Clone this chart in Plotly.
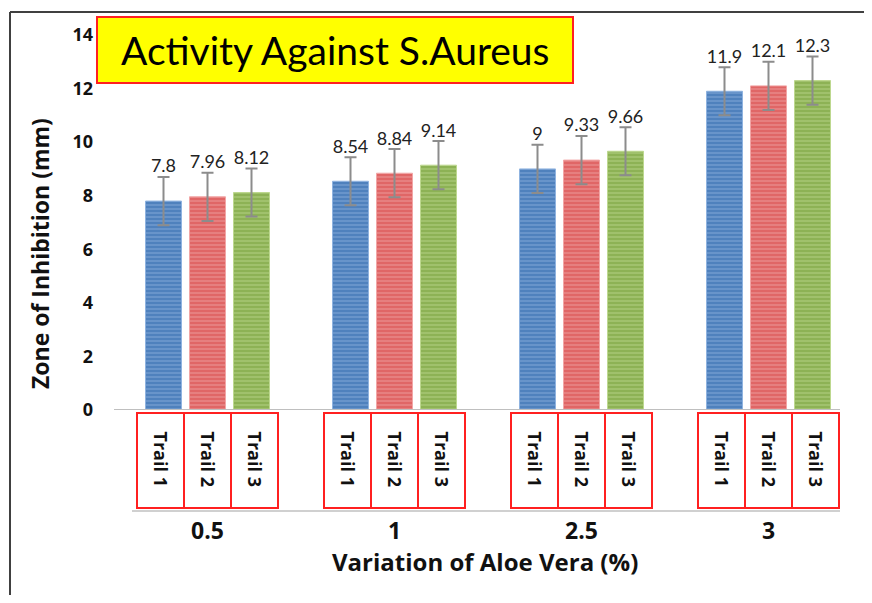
import plotly.graph_objects as go

categories = ["0.5", "1", "2.5", "3"]
trail_names = ["Trail 1", "Trail 2", "Trail 3"]
trail1 = [7.8, 8.54, 9.0, 11.9]
trail2 = [7.96, 8.84, 9.33, 12.1]
trail3 = [8.12, 9.14, 9.66, 12.3]
errors = [0.9, 0.9, 0.9, 0.9]
y_ticks = [0, 2, 4, 6, 8, 10, 12, 14]

series = [trail1, trail2, trail3]
colors = ["#4F81BD", "#E06666", "#8DB255"]
stripes = ["#8FB3E0", "#F2A6A6", "#BDD88F"]

FONT = "Lato"
BFONT = "Open Sans"
OFF = 8  # browser body margin
W, H = 872 - 2 * OFF, 603 - 2 * OFF
ML = 114 - OFF
MT = 35 - OFF
MB = H - (410 - OFF)
MR = W - (862 - OFF)
PW = W - ML - MR
PH = H - MT - MB
CW = PW / 4  # px per category


def px(xs):
    return (xs - OFF - ML) / PW


def py(ys):
    return (H - MB - (ys - OFF)) / PH


xpos = list(range(len(categories)))
fig = go.Figure()

bar_w = 36 / CW
offsets = [-44 / CW, 0, 44 / CW]

for i, vals in enumerate(series):
    fig.add_trace(go.Bar(
        x=xpos, y=vals, name=trail_names[i],
        width=bar_w, offset=offsets[i] - bar_w / 2,
        marker=dict(color=colors[i],
                    line=dict(color=stripes[i], width=1),
                    pattern=dict(shape="-", fgcolor=stripes[i], bgcolor=colors[i],
                                 size=4, solidity=0.4)),
        error_y=dict(type="data", array=errors, color="#8C8C8C", thickness=2, width=6),
        showlegend=False, hoverinfo="skip",
    ))
    fig.add_trace(go.Scatter(
        x=[x + offsets[i] for x in xpos],
        y=[v + e for v, e in zip(vals, errors)],
        mode="text", text=[f"{v:g}" for v in vals],
        textposition="top center",
        textfont=dict(family=FONT, size=18, color="#222222"),
        showlegend=False, hoverinfo="skip", cliponaxis=False,
    ))

shapes = []
# baseline
shapes.append(dict(type="line", xref="x", yref="y", x0=-0.5, x1=(840 - 114) / CW - 0.5,
                   y0=0, y1=0, line=dict(color="#BFBFBF", width=2)))
# lower category line
shapes.append(dict(type="line", xref="paper", yref="paper", x0=px(132), x1=px(840),
                   y0=py(511), y1=py(511), line=dict(color="#D0D0D0", width=2)))
# frame
shapes.append(dict(type="line", xref="paper", yref="paper", x0=px(10), x1=px(10),
                   y0=py(12), y1=py(620), line=dict(color="#404040", width=2)))
shapes.append(dict(type="line", xref="paper", yref="paper", x0=px(10), x1=px(866),
                   y0=py(12), y1=py(12), line=dict(color="#404040", width=2)))
# title box
shapes.append(dict(type="rect", xref="paper", yref="paper", x0=px(97), x1=px(573),
                   y0=py(83), y1=py(17), fillcolor="#FFFF00", line=dict(color="#FF2020", width=2)))

annotations = []
box_pitch = 47 / CW
for c in xpos:
    for j in range(3):
        cx = c + (j - 1) * box_pitch
        shapes.append(dict(type="rect", xref="x", yref="paper",
                           x0=cx - box_pitch / 2, x1=cx + box_pitch / 2,
                           y0=py(508), y1=py(413),
                           line=dict(color="#FF2020", width=2)))
        annotations.append(dict(x=cx, y=py(459), xref="x", yref="paper",
                                xanchor="center", yanchor="middle",
                                text="<b>" + trail_names[j] + "</b>", textangle=90,
                                showarrow=False,
                                font=dict(family=BFONT, size=18, color="#111111")))

annotations.append(dict(x=px(335), y=py(50), xref="paper", yref="paper",
                        xanchor="center", yanchor="middle",
                        text="Activity Against S.Aureus", showarrow=False,
                        font=dict(family=FONT, size=39, color="#000000")))
annotations.append(dict(x=px(40), y=py(254), xref="paper", yref="paper",
                        xanchor="center", yanchor="middle",
                        text="<b>Zone of Inhibition (mm)</b>", textangle=-90, showarrow=False,
                        font=dict(family=BFONT, size=23, color="#111111")))
annotations.append(dict(x=px(485), y=py(561), xref="paper", yref="paper",
                        xanchor="center", yanchor="middle",
                        text="<b>Variation of Aloe Vera (%)</b>", showarrow=False,
                        font=dict(family=BFONT, size=24, color="#111111")))

fig.update_layout(
    width=W, height=H,
    margin=dict(l=ML, r=MR, t=MT, b=MB, autoexpand=False),
    paper_bgcolor="white", plot_bgcolor="white",
    shapes=shapes, annotations=annotations,
    xaxis=dict(range=[-0.5, 3.5], tickvals=xpos, ticktext=["<b>" + c + "</b>" for c in categories],
               tickfont=dict(family=BFONT, size=23, color="#111111"),
               showgrid=False, zeroline=False, showline=False, ticks="",
               ticklabelstandoff=105),
    yaxis=dict(range=[0, 14], tickvals=y_ticks, ticktext=["<b>%d</b>" % t for t in y_ticks],
               tickfont=dict(family=BFONT, size=18, color="#111111"),
               showgrid=False, zeroline=False, showline=False, ticks="",
               ticklabelstandoff=20),
    barmode="overlay",
)

fig.write_html("out.html")
